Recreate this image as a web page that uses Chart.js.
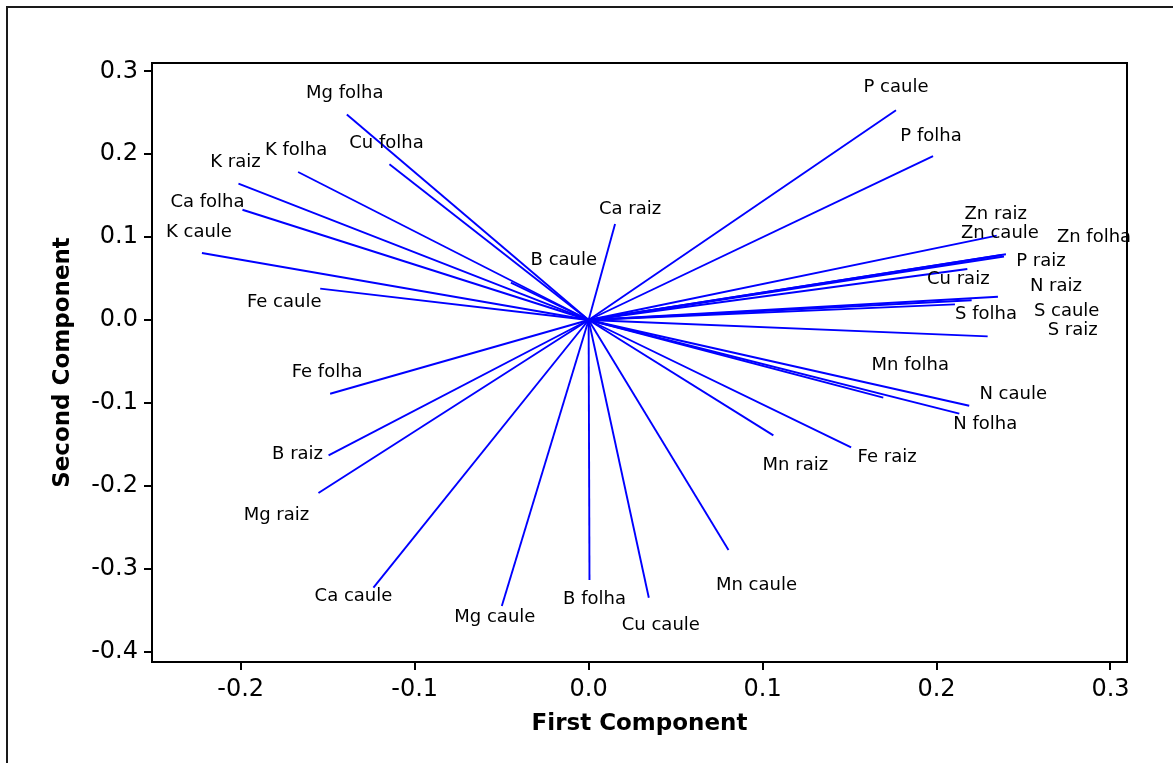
<!DOCTYPE html>
<html>
<head>
<meta charset="utf-8">
<title>Loading plot</title>
<script src="https://cdn.jsdelivr.net/npm/chart.js@4.4.1/dist/chart.umd.min.js"></script>
<style>
  html, body { margin: 0; padding: 0; background: #ffffff; }
  #wrap { position: relative; width: 1173px; height: 763px; }
  canvas { display: block; }
</style>
</head>
<body>
<div id="wrap"><canvas id="chart" width="1173" height="763"></canvas></div>
<script>
// Loadings of each variable on the first two principal components
const variables = [
  'Mg folha', 'Cu folha', 'K folha', 'K raiz', 'Ca folha', 'K caule', 'Fe caule', 'B caule',
  'Ca raiz', 'P caule', 'P folha', 'Zn raiz', 'Zn caule', 'Zn folha', 'P raiz', 'Cu raiz',
  'N raiz', 'S caule', 'S folha', 'S raiz', 'Mn folha', 'N caule', 'N folha', 'Fe raiz',
  'Mn raiz', 'Mn caule', 'Cu caule', 'B folha', 'Mg caule', 'Ca caule', 'Mg raiz', 'B raiz',
  'Fe folha'
];
const firstComponent = [
  -0.139, -0.1145, -0.167, -0.2013, -0.199, -0.2223, -0.1543, -0.0447,
  0.0152, 0.1767, 0.198, 0.2346, 0.2376, 0.2388, 0.2399, 0.2177,
  0.2353, 0.2202, 0.2106, 0.2294, 0.1694, 0.2188, 0.2131, 0.1509,
  0.1062, 0.0804, 0.0346, 0.0005, -0.0499, -0.1237, -0.1553, -0.1495,
  -0.1486
];
const secondComponent = [
  0.248, 0.188, 0.1785, 0.1644, 0.133, 0.0808, 0.0378, 0.045,
  0.1158, 0.253, 0.1978, 0.1017, 0.0784, 0.0766, 0.0793, 0.0615,
  0.0281, 0.0238, 0.0189, -0.0197, -0.0937, -0.1034, -0.113, -0.1536,
  -0.1391, -0.2774, -0.335, -0.3136, -0.345, -0.3229, -0.2087, -0.1632,
  -0.0889
];
const xTicks = [-0.2, -0.1, 0.0, 0.1, 0.2, 0.3];
const yTicks = [0.3, 0.2, 0.1, 0.0, -0.1, -0.2, -0.3, -0.4];

// Where each variable name sits relative to the tip of its vector (pixels)
const labelOffsets = [
  [-2, -21], [-3, -21], [-2, -22], [-3, -21], [-35, -7], [-3, -21], [-36, 14], [53, -22],
  [15, -15], [0, -23], [-2, -20], [-1, -21], [-2, -22], [90, -19], [35, 7], [-9, 10],
  [58, -10], [95, 11], [31, 10], [85, -6], [27, -32], [44, -11], [26, 11], [36, 10],
  [22, 30], [28, 35], [12, 28], [5, 19], [-7, 11], [-20, 9], [-42, 22], [-31, -1],
  [-3, -21]
];

const FONT = "'DejaVu Sans', Verdana, sans-serif";
Chart.defaults.font.family = FONT;
Chart.defaults.color = '#000000';

const datasets = variables.map((name, i) => ({
  label: name,
  data: [{ x: 0, y: 0 }, { x: firstComponent[i], y: secondComponent[i] }],
  showLine: true,
  borderColor: '#0000ff',
  borderWidth: 1.9,
  pointRadius: 0,
  fill: false
}));

// Page frame, box around the plotting area and the variable names
const decorations = {
  id: 'decorations',
  beforeDraw(chart) {
    const ctx = chart.ctx;
    ctx.save();
    ctx.fillStyle = '#ffffff';
    ctx.fillRect(0, 0, chart.width, chart.height);
    ctx.strokeStyle = '#1a1a1a';
    ctx.lineWidth = 2;
    ctx.beginPath();
    ctx.moveTo(7, chart.height + 2);
    ctx.lineTo(7, 7);
    ctx.lineTo(chart.width + 2, 7);
    ctx.stroke();
    ctx.restore();
  },
  afterDatasetsDraw(chart) {
    const ctx = chart.ctx;
    const xs = chart.scales.x, ys = chart.scales.y;
    const a = chart.chartArea;
    ctx.save();
    ctx.strokeStyle = '#000000';
    ctx.lineWidth = 2;
    ctx.strokeRect(a.left, a.top, a.right - a.left, a.bottom - a.top);
    ctx.fillStyle = '#000000';
    ctx.font = '18px ' + FONT;
    ctx.textAlign = 'center';
    ctx.textBaseline = 'middle';
    variables.forEach((name, i) => {
      const px = xs.getPixelForValue(firstComponent[i]) + labelOffsets[i][0];
      const py = ys.getPixelForValue(secondComponent[i]) + labelOffsets[i][1];
      ctx.fillText(name, px, py);
    });
    ctx.restore();
  }
};

const tickFormat = v => Number(v).toFixed(1);

new Chart(document.getElementById('chart'), {
  type: 'scatter',
  data: { datasets },
  options: {
    responsive: false,
    animation: false,
    events: [],
    layout: { padding: { left: 0, top: 63, right: 46, bottom: 0 } },
    plugins: { legend: { display: false }, tooltip: { enabled: false } },
    scales: {
      x: {
        type: 'linear',
        min: -0.251,
        max: 0.3095,
        afterBuildTicks: s => { s.ticks = xTicks.map(v => ({ value: v })); },
        afterFit: s => { s.height = 101; },
        grid: { drawOnChartArea: false, drawTicks: true, tickLength: 8, color: '#000000', lineWidth: 2 },
        border: { display: true, color: '#000000', width: 2 },
        ticks: { font: { size: 24 }, color: '#000000', padding: 5, maxRotation: 0, callback: tickFormat },
        title: { display: true, text: 'First Component', font: { size: 23, weight: 'bold' }, color: '#000000', padding: { top: 0, bottom: 25 } }
      },
      y: {
        type: 'linear',
        min: -0.4125,
        max: 0.31,
        afterBuildTicks: s => { s.ticks = yTicks.map(v => ({ value: v })); },
        afterFit: s => { s.width = 152; },
        grid: { drawOnChartArea: false, drawTicks: true, tickLength: 8, color: '#000000', lineWidth: 2 },
        border: { display: true, color: '#000000', width: 2 },
        ticks: { font: { size: 24 }, color: '#000000', padding: 6, callback: tickFormat },
        title: { display: true, text: 'Second Component', font: { size: 23, weight: 'bold' }, color: '#000000', padding: { top: 49, bottom: 0 } }
      }
    }
  },
  plugins: [decorations]
});
</script>
</body>
</html>
